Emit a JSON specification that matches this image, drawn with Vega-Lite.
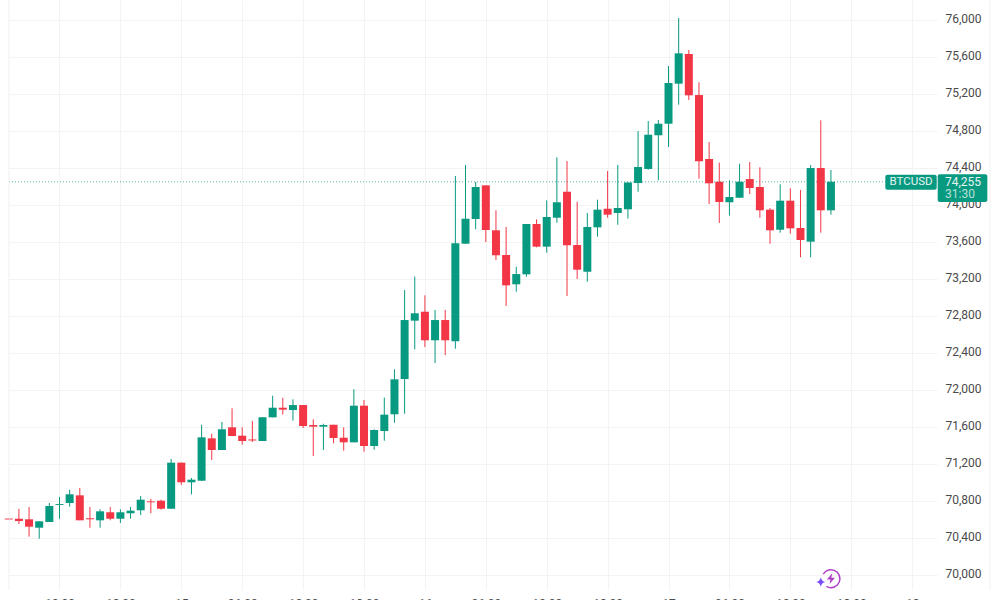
{
  "$schema": "https://vega.github.io/schema/vega-lite/v6.json",
  "width": 928,
  "height": 590,
  "autosize": {"type": "none"},
  "padding": {"left": 9, "top": 0, "right": 63, "bottom": 10},
  "background": "white",
  "view": {"stroke": null},
  "config": {"font": "Roboto", "scale": {"continuousPadding": 0}},
  "datasets": {
    "candles": [
      {"hour":7,"open":70615,"high":70621,"low":70599,"close":70605},
      {"hour":8,"open":70613,"high":70721,"low":70556,"close":70588},
      {"hour":9,"open":70607,"high":70740,"low":70419,"close":70527},
      {"hour":10,"open":70516,"high":70585,"low":70397,"close":70585},
      {"hour":11,"open":70578,"high":70783,"low":70578,"close":70751},
      {"hour":12,"open":70762,"high":70848,"low":70613,"close":70772},
      {"hour":13,"open":70783,"high":70927,"low":70743,"close":70877},
      {"hour":14,"open":70866,"high":70945,"low":70596,"close":70596},
      {"hour":15,"open":70618,"high":70740,"low":70516,"close":70607},
      {"hour":16,"open":70596,"high":70715,"low":70516,"close":70693},
      {"hour":17,"open":70683,"high":70740,"low":70596,"close":70613},
      {"hour":18,"open":70613,"high":70715,"low":70567,"close":70683},
      {"hour":19,"open":70672,"high":70740,"low":70613,"close":70700},
      {"hour":20,"open":70704,"high":70859,"low":70653,"close":70819},
      {"hour":21,"open":70801,"high":70829,"low":70672,"close":70791},
      {"hour":22,"open":70808,"high":70819,"low":70711,"close":70721},
      {"hour":23,"open":70721,"high":71259,"low":70721,"close":71219},
      {"hour":24,"open":71219,"high":71219,"low":70978,"close":71007},
      {"hour":25,"open":71007,"high":71053,"low":70877,"close":71035},
      {"hour":26,"open":71024,"high":71629,"low":71024,"close":71493},
      {"hour":27,"open":71482,"high":71532,"low":71248,"close":71356},
      {"hour":28,"open":71356,"high":71659,"low":71356,"close":71580},
      {"hour":29,"open":71601,"high":71807,"low":71507,"close":71507},
      {"hour":30,"open":71511,"high":71601,"low":71413,"close":71453},
      {"hour":31,"open":71470,"high":71670,"low":71442,"close":71459},
      {"hour":32,"open":71453,"high":71709,"low":71453,"close":71709},
      {"hour":33,"open":71709,"high":71943,"low":71709,"close":71813},
      {"hour":34,"open":71813,"high":71921,"low":71738,"close":71792},
      {"hour":35,"open":71788,"high":71904,"low":71673,"close":71842},
      {"hour":36,"open":71842,"high":71842,"low":71594,"close":71615},
      {"hour":37,"open":71626,"high":71688,"low":71291,"close":71608},
      {"hour":38,"open":71608,"high":71640,"low":71356,"close":71626},
      {"hour":39,"open":71629,"high":71629,"low":71428,"close":71486},
      {"hour":40,"open":71489,"high":71601,"low":71348,"close":71439},
      {"hour":41,"open":71439,"high":72012,"low":71439,"close":71835},
      {"hour":42,"open":71835,"high":71896,"low":71338,"close":71399},
      {"hour":43,"open":71399,"high":71580,"low":71359,"close":71572},
      {"hour":44,"open":71561,"high":71923,"low":71456,"close":71738},
      {"hour":45,"open":71742,"high":72228,"low":71651,"close":72120},
      {"hour":46,"open":72123,"high":73086,"low":71748,"close":72761},
      {"hour":47,"open":72754,"high":73231,"low":72444,"close":72834},
      {"hour":48,"open":72851,"high":73028,"low":72469,"close":72542},
      {"hour":49,"open":72542,"high":72870,"low":72296,"close":72761},
      {"hour":50,"open":72761,"high":72870,"low":72383,"close":72542},
      {"hour":51,"open":72531,"high":74318,"low":72451,"close":73590},
      {"hour":52,"open":73586,"high":74437,"low":73586,"close":73856},
      {"hour":53,"open":73853,"high":74253,"low":73742,"close":74199},
      {"hour":54,"open":74217,"high":74217,"low":73604,"close":73734},
      {"hour":55,"open":73731,"high":73947,"low":73410,"close":73461},
      {"hour":56,"open":73464,"high":73767,"low":72913,"close":73136},
      {"hour":57,"open":73147,"high":73337,"low":73067,"close":73258},
      {"hour":58,"open":73255,"high":73799,"low":73229,"close":73799},
      {"hour":59,"open":73799,"high":73850,"low":73547,"close":73554},
      {"hour":60,"open":73554,"high":74055,"low":73489,"close":73875},
      {"hour":61,"open":73867,"high":74520,"low":73813,"close":74034},
      {"hour":62,"open":74148,"high":74480,"low":73021,"close":73569},
      {"hour":63,"open":73572,"high":74040,"low":73205,"close":73305},
      {"hour":64,"open":73283,"high":73918,"low":73175,"close":73767},
      {"hour":65,"open":73763,"high":74062,"low":73662,"close":73954},
      {"hour":66,"open":73964,"high":74372,"low":73867,"close":73900},
      {"hour":67,"open":73918,"high":74437,"low":73791,"close":73972},
      {"hour":68,"open":73958,"high":74253,"low":73858,"close":74248},
      {"hour":69,"open":74242,"high":74804,"low":74148,"close":74415},
      {"hour":70,"open":74394,"high":74912,"low":74386,"close":74764},
      {"hour":71,"open":74758,"high":74923,"low":74271,"close":74883},
      {"hour":72,"open":74883,"high":75507,"low":74631,"close":75323},
      {"hour":73,"open":75316,"high":76026,"low":75089,"close":75644},
      {"hour":74,"open":75637,"high":75680,"low":75139,"close":75190},
      {"hour":75,"open":75193,"high":75331,"low":74289,"close":74477},
      {"hour":76,"open":74502,"high":74685,"low":74015,"close":74239},
      {"hour":77,"open":74256,"high":74462,"low":73810,"close":74037},
      {"hour":78,"open":74034,"high":74271,"low":73889,"close":74091},
      {"hour":79,"open":74083,"high":74451,"low":74083,"close":74256},
      {"hour":80,"open":74285,"high":74469,"low":74123,"close":74188},
      {"hour":81,"open":74199,"high":74412,"low":73867,"close":73947},
      {"hour":82,"open":73954,"high":73972,"low":73586,"close":73731},
      {"hour":83,"open":73737,"high":74228,"low":73705,"close":74051},
      {"hour":84,"open":74051,"high":74185,"low":73694,"close":73752},
      {"hour":85,"open":73756,"high":74167,"low":73439,"close":73626},
      {"hour":86,"open":73608,"high":74437,"low":73439,"close":74404},
      {"hour":87,"open":74404,"high":74920,"low":73705,"close":73947},
      {"hour":88,"open":73947,"high":74383,"low":73900,"close":74256}
    ]
  },
  "layer": [
    {
      "data": {"values": [{"symbol": "BTCUSD", "last": 74255}]},
      "mark": {"type": "rule", "strokeDash": [1, 2], "color": "#089981", "opacity": 0.7},
      "encoding": {
        "y": {"field": "last", "type": "quantitative", "title": null, "scale": {"domain": [69842.6, 76220.5], "nice": false, "zero": false}, "axis": {"orient": "right"}}
      }
    },
    {
      "data": {"name": "candles"},
      "mark": {"type": "rule", "strokeWidth": 1},
      "encoding": {
        "x": {
          "field": "hour",
          "type": "quantitative",
          "title": null,
          "scale": {"domain": [7.025, 98.45], "nice": false, "zero": false, "padding": 0},
          "axis": {
            "values": [12, 18, 24, 30, 36, 42, 48, 54, 60, 66, 72, 78, 84, 90, 96],
            "grid": true,
            "gridColor": "#f3f3f4",
            "domain": false,
            "ticks": false,
            "labelPadding": 8,
            "labelBaseline": "top",
            "labelFontSize": 12,
            "labelColor": "#4a4a4a",
            "labelFlush": false,
            "labelOverlap": false,
            "labelExpr": "datum.value % 24 === 0 ? format(14 + datum.value / 24, 'd') : format(datum.value % 24, '02d') + ':00'"
          }
        },
        "y": {
          "field": "low",
          "type": "quantitative",
          "title": null,
          "scale": {"domain": [69842.6, 76220.5], "nice": false, "zero": false},
          "axis": {
            "orient": "right",
            "values": [70000, 70400, 70800, 71200, 71600, 72000, 72400, 72800, 73200, 73600, 74000, 74400, 74800, 75200, 75600, 76000],
            "tickCount": 20,
            "format": ",d",
            "grid": true,
            "gridColor": "#f3f3f4",
            "domain": false,
            "ticks": false,
            "labelPadding": 8,
            "labelOffset": -1.5,
            "labelAlign": "left",
            "labelFontSize": 12,
            "labelOverlap": false,
            "labelColor": "#4a4a4a"
          }
        },
        "y2": {"field": "high"},
        "color": {
          "condition": {"test": "datum.close >= datum.open", "value": "#089981"},
          "value": "#f23645"
        }
      }
    },
    {
      "data": {"name": "candles"},
      "mark": {"type": "bar", "width": 8},
      "encoding": {
        "x": {"field": "hour", "type": "quantitative", "title": null, "scale": {"domain": [7.025, 98.45], "nice": false, "zero": false, "padding": 0}},
        "y": {"field": "open", "type": "quantitative", "title": null, "scale": {"domain": [69842.6, 76220.5], "nice": false, "zero": false}, "axis": {"orient": "right"}},
        "y2": {"field": "close"},
        "color": {
          "condition": {"test": "datum.close >= datum.open", "value": "#089981"},
          "value": "#f23645"
        }
      }
    },
    {
      "data": {"values": [{"edge": "left"}]},
      "mark": {"type": "rule", "color": "#f0f0f0"},
      "encoding": {
        "x": {"datum": 7.03, "type": "quantitative", "title": null, "scale": {"domain": [7.025, 98.45], "nice": false, "zero": false}}
      }
    },
    {
      "data": {"values": [{"edge": "right"}]},
      "mark": {"type": "rule", "color": "#f0f0f0"},
      "encoding": {
        "x": {"datum": 103.67, "type": "quantitative", "title": null, "scale": {"domain": [7.025, 98.45], "nice": false, "zero": false}}
      }
    },
    {
      "data": {"values": [{"symbol": "BTCUSD"}]},
      "mark": {"type": "rect", "color": "#089981", "cornerRadius": 2},
      "encoding": {
        "x": {"datum": 93.36, "type": "quantitative", "title": null, "scale": {"domain": [7.025, 98.45], "nice": false, "zero": false}},
        "x2": {"datum": 98.42},
        "y": {"datum": 74332, "type": "quantitative", "title": null, "scale": {"domain": [69842.6, 76220.5], "nice": false, "zero": false}, "axis": {"orient": "right"}},
        "y2": {"datum": 74170}
      }
    },
    {
      "data": {"values": [{"symbol": "BTCUSD"}]},
      "mark": {"type": "rect", "color": "#089981", "cornerRadius": 2},
      "encoding": {
        "x": {"datum": 98.52, "type": "quantitative", "title": null, "scale": {"domain": [7.025, 98.45], "nice": false, "zero": false}},
        "x2": {"datum": 103.41},
        "y": {"datum": 74336, "type": "quantitative", "title": null, "scale": {"domain": [69842.6, 76220.5], "nice": false, "zero": false}, "axis": {"orient": "right"}},
        "y2": {"datum": 74037}
      }
    },
    {
      "data": {"values": [{"label": "BTCUSD"}]},
      "mark": {"type": "text", "color": "#e6f5f2", "fontSize": 11.5, "align": "center", "baseline": "middle"},
      "encoding": {
        "x": {"datum": 95.89, "type": "quantitative", "title": null, "scale": {"domain": [7.025, 98.45], "nice": false, "zero": false}},
        "y": {"datum": 74255, "type": "quantitative", "title": null, "scale": {"domain": [69842.6, 76220.5], "nice": false, "zero": false}, "axis": {"orient": "right"}},
        "text": {"field": "label"}
      }
    },
    {
      "data": {"values": [{"label": "74,255"}]},
      "mark": {"type": "text", "color": "#e6f5f2", "fontSize": 12, "align": "left", "baseline": "middle"},
      "encoding": {
        "x": {"datum": 99.24, "type": "quantitative", "title": null, "scale": {"domain": [7.025, 98.45], "nice": false, "zero": false}},
        "y": {"datum": 74255, "type": "quantitative", "title": null, "scale": {"domain": [69842.6, 76220.5], "nice": false, "zero": false}, "axis": {"orient": "right"}},
        "text": {"field": "label"}
      }
    },
    {
      "data": {"values": [{"label": "31:30"}]},
      "mark": {"type": "text", "color": "#b5e0d8", "fontSize": 12, "align": "left", "baseline": "middle"},
      "encoding": {
        "x": {"datum": 99.24, "type": "quantitative", "title": null, "scale": {"domain": [7.025, 98.45], "nice": false, "zero": false}},
        "y": {"datum": 74126, "type": "quantitative", "title": null, "scale": {"domain": [69842.6, 76220.5], "nice": false, "zero": false}, "axis": {"orient": "right"}},
        "text": {"field": "label"}
      }
    },
    {
      "data": {"values": [{"icon": "ring"}]},
      "mark": {"type": "point", "filled": false, "strokeWidth": 1.5, "opacity": 1, "color": "#b040c8", "size": 324, "shape": "M-0.85 -0.5 C-0.66 -0.81 -0.34 -1 0 -1 C0.55 -1 1 -0.55 1 0 C1 0.55 0.55 1 0 1 C-0.18 1 -0.35 0.95 -0.5 0.85"},
      "encoding": {
        "x": {"datum": 88, "type": "quantitative", "title": null, "scale": {"domain": [7.025, 98.45], "nice": false, "zero": false}},
        "y": {"datum": 69965, "type": "quantitative", "title": null, "scale": {"domain": [69842.6, 76220.5], "nice": false, "zero": false}, "axis": {"orient": "right"}}
      }
    },
    {
      "data": {"values": [{"icon": "bolt"}]},
      "mark": {"type": "point", "filled": true, "opacity": 1, "color": "#b040c8", "size": 324, "shape": "M0.15 -0.6 L-0.45 0.1 L-0.05 0.1 L-0.15 0.6 L0.45 -0.1 L0.05 -0.1 Z"},
      "encoding": {
        "x": {"datum": 88, "type": "quantitative", "title": null, "scale": {"domain": [7.025, 98.45], "nice": false, "zero": false}},
        "y": {"datum": 69965, "type": "quantitative", "title": null, "scale": {"domain": [69842.6, 76220.5], "nice": false, "zero": false}, "axis": {"orient": "right"}}
      }
    },
    {
      "data": {"values": [{"icon": "star"}]},
      "mark": {"type": "point", "filled": true, "opacity": 1, "color": "#7a4dff", "size": 90, "shape": "M0 -1 Q0.15 -0.15 1 0 Q0.15 0.15 0 1 Q-0.15 0.15 -1 0 Q-0.15 -0.15 0 -1 Z"},
      "encoding": {
        "x": {"datum": 87, "type": "quantitative", "title": null, "scale": {"domain": [7.025, 98.45], "nice": false, "zero": false}},
        "y": {"datum": 69929, "type": "quantitative", "title": null, "scale": {"domain": [69842.6, 76220.5], "nice": false, "zero": false}, "axis": {"orient": "right"}}
      }
    }
  ]
}
